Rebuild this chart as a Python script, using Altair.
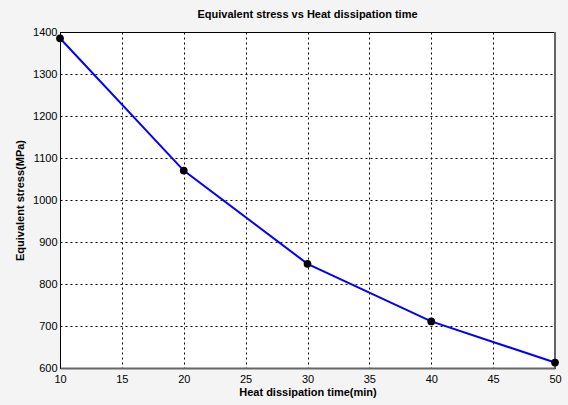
import altair as alt
import pandas as pd

time_min = [10, 20, 30, 40, 50]
stress_mpa = [1385, 1070, 848, 711, 613]
x_ticks = [10, 15, 20, 25, 30, 35, 40, 45, 50]
y_ticks = [600, 700, 800, 900, 1000, 1100, 1200, 1300, 1400]

df = pd.DataFrame({"t": time_min, "s": stress_mpa})

FONT = "Liberation Sans Narrow, Arial Narrow, Liberation Sans, Arial"
W, H = 495, 336

x = alt.X("t:Q", scale=alt.Scale(domain=[10, 50], nice=False),
          axis=alt.Axis(values=x_ticks, title="Heat dissipation time(min)", format="d",
                        titleFontWeight="bold", titleFontSize=11, titleFont=FONT,
                        titlePadding=2, labelFont=FONT, labelFontSize=11,
                        labelPadding=5, tickSize=0, domainColor="#666666",
                        domainWidth=2, labelColor="black", titleColor="black",
                        grid=True, gridDash=[2, 3], gridColor="black",
                        gridOpacity=1, labelFlush=False))
y = alt.Y("s:Q", scale=alt.Scale(domain=[600, 1400], nice=False),
          axis=alt.Axis(values=y_ticks, title="Equivalent stress(MPa)", format="d",
                        titleFontWeight="bold", titleFontSize=11, titleFont=FONT,
                        titlePadding=7, labelFont=FONT, labelFontSize=11,
                        labelPadding=3, tickSize=0, domainColor="black",
                        labelColor="black", titleColor="black",
                        grid=True, gridDash=[2, 3], gridColor="black",
                        gridOpacity=1, labelFlush=False))

line = alt.Chart(df).mark_line(color="#0000ff", strokeWidth=2,
                               interpolate="linear", clip=False).encode(x=x, y=y)
pts = alt.Chart(df).mark_circle(color="black", size=60, opacity=1,
                                clip=False).encode(x="t:Q", y="s:Q")
right = alt.Chart(df).mark_rule(color="#666666", strokeWidth=1.5).encode(
    x=alt.value(W), y=alt.value(0), y2=alt.value(H))

chart = (alt.layer(right, line, pts)
         .properties(width=W, height=H,
                     title=alt.TitleParams("Equivalent stress vs Heat dissipation time",
                                           font=FONT, fontSize=11, fontWeight="bold",
                                           color="black", offset=6, anchor="middle"),
                     autosize=alt.AutoSizeParams(type="none"),
                     padding={"left": 60, "top": 32, "right": 13, "bottom": 37},
                     background="#f4f4f4")
         .configure_view(stroke="black", strokeWidth=1, fill="white"))

chart.save("out.html", embed_options={"renderer": "svg", "actions": False})
